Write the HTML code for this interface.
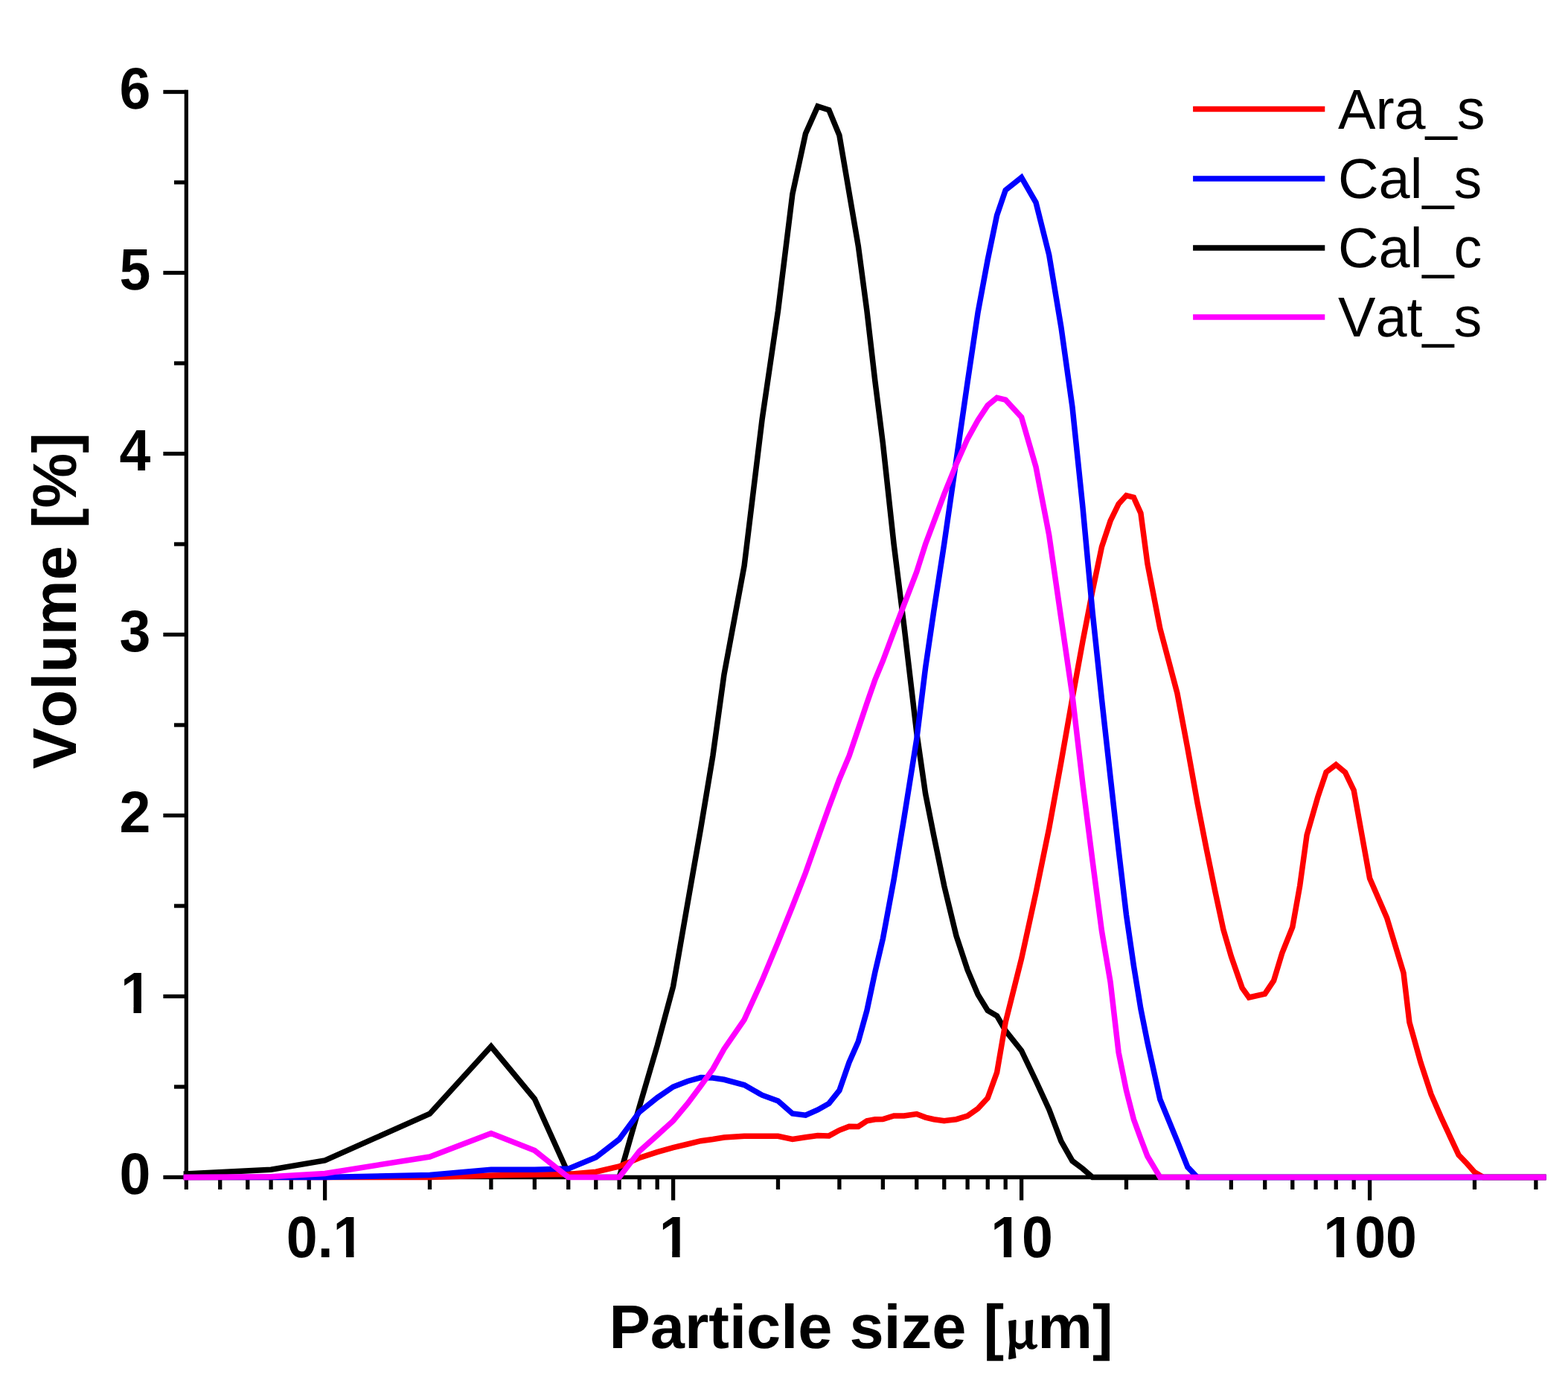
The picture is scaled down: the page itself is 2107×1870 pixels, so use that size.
<!DOCTYPE html>
<html lang="en"><head><meta charset="utf-8"><title>Particle size distribution</title>
<style>html,body{margin:0;padding:0;background:#fff;}body{width:2107px;height:1870px;overflow:hidden;}svg{display:block;}text{font-family:"Liberation Sans",sans-serif;fill:#000;font-kerning:none;font-variant-ligatures:none;text-rendering:geometricPrecision;}.b{font-weight:bold;}</style>
</head><body>
<svg width="2107" height="1870" viewBox="0 0 2107 1870">
<rect x="0" y="0" width="2107" height="1870" fill="#ffffff"/>
<g stroke="#000" stroke-width="5.30" fill="none" stroke-linecap="butt">
<line x1="250.36" y1="120.85" x2="250.36" y2="1584.15"/>
<line x1="247.71" y1="1581.50" x2="2076.46" y2="1581.50"/>
<line x1="219.36" y1="1581.50" x2="250.36" y2="1581.50"/>
<line x1="233.96" y1="1460.00" x2="250.36" y2="1460.00"/>
<line x1="219.36" y1="1338.50" x2="250.36" y2="1338.50"/>
<line x1="233.96" y1="1217.00" x2="250.36" y2="1217.00"/>
<line x1="219.36" y1="1095.50" x2="250.36" y2="1095.50"/>
<line x1="233.96" y1="974.00" x2="250.36" y2="974.00"/>
<line x1="219.36" y1="852.50" x2="250.36" y2="852.50"/>
<line x1="233.96" y1="731.00" x2="250.36" y2="731.00"/>
<line x1="219.36" y1="609.50" x2="250.36" y2="609.50"/>
<line x1="233.96" y1="488.00" x2="250.36" y2="488.00"/>
<line x1="219.36" y1="366.50" x2="250.36" y2="366.50"/>
<line x1="233.96" y1="245.00" x2="250.36" y2="245.00"/>
<line x1="219.36" y1="123.50" x2="250.36" y2="123.50"/>
<line x1="250.36" y1="1581.50" x2="250.36" y2="1597.90"/>
<line x1="295.72" y1="1581.50" x2="295.72" y2="1597.90"/>
<line x1="332.77" y1="1581.50" x2="332.77" y2="1597.90"/>
<line x1="364.11" y1="1581.50" x2="364.11" y2="1597.90"/>
<line x1="391.25" y1="1581.50" x2="391.25" y2="1597.90"/>
<line x1="415.19" y1="1581.50" x2="415.19" y2="1597.90"/>
<line x1="436.60" y1="1581.50" x2="436.60" y2="1612.50"/>
<line x1="577.48" y1="1581.50" x2="577.48" y2="1597.90"/>
<line x1="659.89" y1="1581.50" x2="659.89" y2="1597.90"/>
<line x1="718.36" y1="1581.50" x2="718.36" y2="1597.90"/>
<line x1="763.72" y1="1581.50" x2="763.72" y2="1597.90"/>
<line x1="800.77" y1="1581.50" x2="800.77" y2="1597.90"/>
<line x1="832.11" y1="1581.50" x2="832.11" y2="1597.90"/>
<line x1="859.25" y1="1581.50" x2="859.25" y2="1597.90"/>
<line x1="883.19" y1="1581.50" x2="883.19" y2="1597.90"/>
<line x1="904.60" y1="1581.50" x2="904.60" y2="1612.50"/>
<line x1="1045.48" y1="1581.50" x2="1045.48" y2="1597.90"/>
<line x1="1127.89" y1="1581.50" x2="1127.89" y2="1597.90"/>
<line x1="1186.36" y1="1581.50" x2="1186.36" y2="1597.90"/>
<line x1="1231.72" y1="1581.50" x2="1231.72" y2="1597.90"/>
<line x1="1268.77" y1="1581.50" x2="1268.77" y2="1597.90"/>
<line x1="1300.11" y1="1581.50" x2="1300.11" y2="1597.90"/>
<line x1="1327.25" y1="1581.50" x2="1327.25" y2="1597.90"/>
<line x1="1351.19" y1="1581.50" x2="1351.19" y2="1597.90"/>
<line x1="1372.60" y1="1581.50" x2="1372.60" y2="1612.50"/>
<line x1="1513.48" y1="1581.50" x2="1513.48" y2="1597.90"/>
<line x1="1595.89" y1="1581.50" x2="1595.89" y2="1597.90"/>
<line x1="1654.36" y1="1581.50" x2="1654.36" y2="1597.90"/>
<line x1="1699.72" y1="1581.50" x2="1699.72" y2="1597.90"/>
<line x1="1736.77" y1="1581.50" x2="1736.77" y2="1597.90"/>
<line x1="1768.11" y1="1581.50" x2="1768.11" y2="1597.90"/>
<line x1="1795.25" y1="1581.50" x2="1795.25" y2="1597.90"/>
<line x1="1819.19" y1="1581.50" x2="1819.19" y2="1597.90"/>
<line x1="1840.60" y1="1581.50" x2="1840.60" y2="1612.50"/>
<line x1="1981.48" y1="1581.50" x2="1981.48" y2="1597.90"/>
<line x1="2063.89" y1="1581.50" x2="2063.89" y2="1597.90"/>
</g>
<defs><clipPath id="cy1" clipPathUnits="userSpaceOnUse"><path clip-rule="evenodd" d="M0 0H2107 V1870 H0Z M165.16 1352.67 H179.50 V1362.60 H165.16 Z M189.83 1352.67 H203.20 V1362.60 H189.83 Z"/></clipPath><clipPath id="cx0" clipPathUnits="userSpaceOnUse"><path clip-rule="evenodd" d="M0 0H2107 V1870 H0Z M450.80 1680.57 H465.14 V1690.50 H450.80 Z M475.47 1680.57 H488.84 V1690.50 H475.47 Z"/></clipPath><clipPath id="cx1" clipPathUnits="userSpaceOnUse"><path clip-rule="evenodd" d="M0 0H2107 V1870 H0Z M888.90 1680.57 H903.24 V1690.50 H888.90 Z M913.57 1680.57 H926.94 V1690.50 H913.57 Z"/></clipPath><clipPath id="cx2" clipPathUnits="userSpaceOnUse"><path clip-rule="evenodd" d="M0 0H2107 V1870 H0Z M1334.46 1680.57 H1348.80 V1690.50 H1334.46 Z M1359.13 1680.57 H1372.50 V1690.50 H1359.13 Z"/></clipPath><clipPath id="cx3" clipPathUnits="userSpaceOnUse"><path clip-rule="evenodd" d="M0 0H2107 V1870 H0Z M1781.53 1680.57 H1795.86 V1690.50 H1781.53 Z M1806.19 1680.57 H1819.57 V1690.50 H1806.19 Z"/></clipPath></defs>
<g class="b" font-size="75.3" font-weight="bold">
<text transform="translate(202.30 1604.10) scale(1 1.045)" text-anchor="end">0</text>
<g clip-path="url(#cy1)"><text transform="translate(203.80 1361.10) scale(1 1.045)" text-anchor="end">1</text></g>
<text transform="translate(202.30 1118.10) scale(1 1.045)" text-anchor="end">2</text>
<text transform="translate(202.30 875.10) scale(1 1.045)" text-anchor="end">3</text>
<text transform="translate(202.30 632.10) scale(1 1.045)" text-anchor="end">4</text>
<text transform="translate(202.30 389.10) scale(1 1.045)" text-anchor="end">5</text>
<text transform="translate(202.30 146.10) scale(1 1.045)" text-anchor="end">6</text>
<g clip-path="url(#cx0)"><text transform="translate(437.10 1689.00) scale(1 1.045)" text-anchor="middle">0.1</text></g>
<g clip-path="url(#cx1)"><text transform="translate(906.60 1689.00) scale(1 1.045)" text-anchor="middle">1</text></g>
<g clip-path="url(#cx2)"><text transform="translate(1373.10 1689.00) scale(1 1.045)" text-anchor="middle">10</text></g>
<g clip-path="url(#cx3)"><text transform="translate(1841.10 1689.00) scale(1 1.045)" text-anchor="middle">100</text></g>
</g>
<text class="b" font-weight="bold" font-size="83" x="818.50" y="1811.40" text-anchor="start">Particle size [<tspan id="mu" x="1350.00" font-family="'Noto Serif CJK SC','Liberation Serif',serif" font-weight="700" font-size="68.0" stroke="#000" stroke-width="1.4" stroke-linejoin="round">μ</tspan><tspan id="mb" x="1394.30">m]</tspan></text>
<text id="ytitle" class="b" font-weight="bold" font-size="83" text-anchor="middle" transform="translate(102.40 807.00) rotate(-90)">Volume [%]</text>
<g fill="none" stroke-width="7.5" stroke-linejoin="miter" stroke-miterlimit="10" stroke-linecap="square">
<polyline id="calc" stroke="#000000" points="250.4,1576.9 364.1,1571.3 436.6,1558.9 577.5,1496.2 659.9,1405.8 718.4,1476.3 763.7,1576.6 800.8,1581.5 832.1,1581.5 859.2,1486.7 883.2,1404.8 904.6,1325.1 924.0,1213.4 941.7,1112.5 957.9,1015.3 973.0,906.0 1000.1,760.2 1024.1,563.3 1045.5,417.5 1064.9,260.6 1082.5,179.4 1098.8,142.9 1113.9,147.8 1127.9,181.8 1141.0,258.6 1153.3,330.5 1164.9,417.5 1175.9,512.3 1186.4,595.6 1201.1,731.0 1214.8,840.4 1231.7,983.7 1243.6,1066.3 1254.8,1122.7 1268.8,1190.3 1285.0,1257.1 1300.1,1303.0 1314.1,1336.1 1327.2,1357.5 1339.6,1364.7 1351.2,1384.7 1372.6,1411.4 1392.0,1452.0 1409.7,1490.4 1425.9,1533.1 1441.0,1559.6 1455.0,1570.1 1468.1,1581.5 2073.8,1581.5"/>
<polyline id="ara" stroke="#ff0000" points="250.4,1581.5 577.5,1581.5 659.9,1579.1 718.4,1578.1 763.7,1577.6 800.8,1574.2 832.1,1566.9 859.2,1555.5 883.2,1547.7 904.6,1541.6 924.0,1537.0 941.7,1532.7 957.9,1530.5 973.0,1528.0 1000.1,1526.3 1045.5,1526.3 1064.9,1530.5 1082.5,1527.8 1098.8,1525.6 1113.9,1525.9 1127.9,1518.3 1141.0,1513.2 1153.3,1513.5 1164.9,1505.9 1175.9,1503.7 1186.4,1503.5 1201.1,1498.9 1214.8,1498.9 1231.7,1496.5 1243.6,1501.1 1254.8,1503.7 1268.8,1505.7 1285.0,1503.7 1300.1,1499.1 1314.1,1489.2 1327.2,1475.1 1339.6,1440.8 1351.2,1373.2 1372.6,1288.0 1392.0,1199.3 1409.7,1112.8 1425.9,1023.8 1441.0,938.0 1455.0,861.2 1468.1,793.5 1480.5,734.6 1492.1,699.7 1503.1,677.1 1513.5,665.6 1523.4,668.1 1532.9,689.4 1541.9,757.2 1558.8,844.2 1581.9,931.2 1595.9,1005.6 1609.0,1078.5 1621.3,1141.2 1632.9,1197.8 1643.9,1248.8 1654.4,1284.8 1669.1,1327.1 1678.3,1340.0 1699.7,1335.1 1711.6,1317.4 1722.8,1280.4 1736.8,1245.4 1746.7,1189.8 1756.1,1121.7 1771.0,1070.0 1782.1,1037.2 1795.2,1027.2 1807.6,1037.7 1819.2,1061.7 1830.2,1122.7 1840.6,1180.1 1863.6,1233.0 1886.0,1306.9 1893.9,1373.2 1909.0,1427.2 1923.0,1470.0 1936.1,1500.1 1948.5,1526.8 1960.1,1551.6 1971.1,1563.0 1981.5,1574.7 1993.3,1581.5 2073.8,1581.5"/>
<polyline id="cals" stroke="#0000ff" points="250.4,1581.5 436.6,1581.5 577.5,1578.6 659.9,1571.3 718.4,1571.3 763.7,1570.1 800.8,1554.8 832.1,1530.5 859.2,1493.8 883.2,1474.6 904.6,1460.0 924.0,1452.5 941.7,1447.6 957.9,1448.1 973.0,1450.3 1000.1,1457.6 1024.1,1471.2 1045.5,1479.0 1064.9,1496.0 1082.5,1498.2 1098.8,1490.9 1113.9,1482.4 1127.9,1464.9 1141.0,1427.2 1153.3,1399.2 1164.9,1357.5 1175.9,1305.7 1186.4,1261.0 1201.1,1181.8 1214.8,1099.1 1231.7,993.4 1243.6,897.0 1254.8,820.9 1268.8,730.3 1285.0,618.0 1300.1,513.5 1314.1,419.5 1327.2,349.0 1339.6,289.2 1351.2,255.4 1372.6,238.4 1392.0,272.0 1409.7,342.4 1425.9,439.6 1441.0,547.0 1455.0,681.9 1468.1,822.6 1480.5,939.7 1492.1,1044.0 1503.1,1141.7 1513.5,1229.2 1523.4,1297.2 1532.9,1355.3 1541.9,1400.2 1558.8,1476.8 1581.9,1532.9 1595.9,1567.9 1609.0,1581.5 2073.8,1581.5"/>
<polyline id="vat" stroke="#ff00ff" points="250.4,1581.5 364.1,1580.8 436.6,1576.4 577.5,1554.0 659.9,1522.5 718.4,1545.5 763.7,1581.5 832.1,1581.5 859.2,1546.5 883.2,1525.1 904.6,1505.7 924.0,1482.4 941.7,1458.8 957.9,1436.2 973.0,1409.2 1000.1,1369.8 1024.1,1317.1 1045.5,1265.6 1064.9,1217.5 1082.5,1172.5 1098.8,1126.4 1113.9,1084.3 1127.9,1046.7 1141.0,1015.6 1153.3,979.3 1164.9,944.6 1175.9,913.0 1186.4,887.7 1201.1,848.4 1214.8,812.4 1231.7,768.4 1243.6,731.0 1254.8,701.1 1268.8,663.7 1285.0,623.6 1300.1,589.6 1314.1,564.5 1327.2,544.6 1339.6,534.4 1351.2,537.1 1372.6,560.4 1392.0,627.2 1409.7,718.9 1425.9,830.9 1441.0,934.4 1455.0,1053.9 1468.1,1156.7 1480.5,1251.0 1492.1,1319.3 1503.1,1413.8 1513.5,1464.9 1523.4,1503.7 1532.9,1529.7 1541.9,1553.3 1558.8,1581.5 2073.8,1581.5"/>
</g>
<g font-size="75.6">
<line x1="1603.1" y1="146.5" x2="1780.3" y2="146.5" stroke="#ff0000" stroke-width="7.5"/>
<text x="1798" y="172.5">Ara_s</text>
<line x1="1603.1" y1="239.9" x2="1780.3" y2="239.9" stroke="#0000ff" stroke-width="7.5"/>
<text x="1798" y="265.7">Cal_s</text>
<line x1="1603.1" y1="333.0" x2="1780.3" y2="333.0" stroke="#000000" stroke-width="7.5"/>
<text x="1798" y="359.0">Cal_c</text>
<line x1="1603.1" y1="426.1" x2="1780.3" y2="426.1" stroke="#ff00ff" stroke-width="7.5"/>
<text x="1798" y="451.8">Vat_s</text>
</g>
</svg>
</body></html>
